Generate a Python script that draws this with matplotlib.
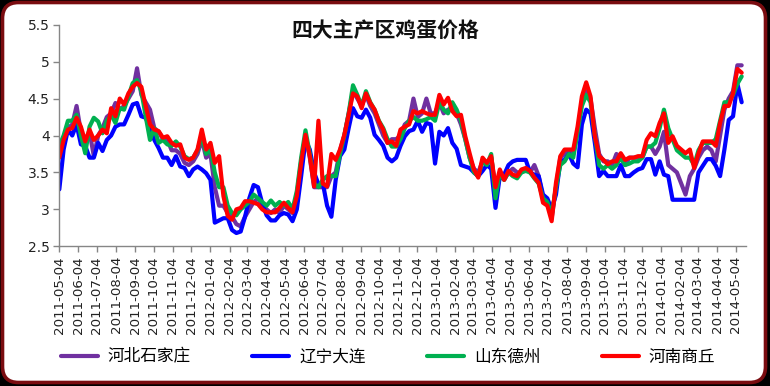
import matplotlib
matplotlib.use("Agg")
import matplotlib.pyplot as plt
import matplotlib.dates as mdates
from matplotlib.patches import FancyBboxPatch
from matplotlib.transforms import IdentityTransform
import pandas as pd

plt.rcParams['font.family'] = ['DejaVu Sans', 'Noto Sans CJK SC']

title = "四大主产区鸡蛋价格"
series_names = ["河北石家庄", "辽宁大连", "山东德州", "河南商丘"]
series_colors = ["#7030A0", "#0000FF", "#00B050", "#FF0000"]
start_date = "2011-05-04"

hebei = [3.75, 3.95, 4.10, 4.15, 4.40, 4.05, 3.85, 4.05, 3.72, 4.00,
         4.10, 4.25, 4.30, 4.44, 4.35, 4.40, 4.50, 4.60, 4.91, 4.55,
         4.45, 4.35, 4.10, 4.05, 3.95, 3.95, 3.80, 3.80, 3.75, 3.63,
         3.60, 3.65, 3.75, 3.95, 3.70, 3.75, 3.30, 3.05, 3.05, 2.95,
         2.90, 2.80, 2.77, 2.90, 3.00, 3.10, 3.15, 3.05, 3.00, 2.95,
         3.00, 2.95, 3.05, 3.00, 2.95, 3.20, 3.65, 4.00, 3.70, 3.30,
         3.30, 3.30, 3.30, 3.45, 3.50, 3.80, 4.00, 4.30, 4.60, 4.50,
         4.40, 4.55, 4.40, 4.30, 4.15, 4.00, 3.90, 3.95, 3.95, 4.00,
         4.15, 4.20, 4.50, 4.25, 4.30, 4.50, 4.30, 4.30, 4.45, 4.30,
         4.35, 4.35, 4.30, 4.15, 3.95, 3.70, 3.55, 3.50, 3.65, 3.60,
         3.70, 3.30, 3.45, 3.40, 3.50, 3.55, 3.50, 3.50, 3.55, 3.50,
         3.60, 3.45, 3.15, 3.10, 2.88, 3.30, 3.70, 3.75, 3.80, 3.75,
         4.05, 4.45, 4.60, 4.50, 4.10, 3.75, 3.65, 3.65, 3.60, 3.75,
         3.70, 3.60, 3.70, 3.70, 3.70, 3.70, 3.85, 3.85, 3.75, 3.85,
         4.05, 3.60, 3.55, 3.50, 3.35, 3.20, 3.45, 3.55, 3.70, 3.80,
         3.85, 3.80, 3.65, 4.00, 4.35, 4.50, 4.60, 4.95, 4.95]

liaoning = [3.27, 3.81, 4.08, 4.00, 4.15, 3.88, 3.86, 3.70, 3.70, 3.90,
            3.79, 3.94, 4.00, 4.12, 4.15, 4.15, 4.28, 4.42, 4.44, 4.26,
            4.24, 4.10, 3.94, 3.83, 3.70, 3.70, 3.60, 3.72, 3.58, 3.56,
            3.45, 3.54, 3.58, 3.54, 3.49, 3.40, 2.82, 2.85, 2.88, 2.88,
            2.72, 2.68, 2.70, 2.90, 3.15, 3.33, 3.30, 3.08, 2.92, 2.85,
            2.85, 2.92, 2.95, 2.93, 2.84, 3.00, 3.45, 3.94, 3.81, 3.50,
            3.34, 3.36, 3.05, 2.90, 3.40, 3.72, 3.81, 4.10, 4.37, 4.26,
            4.24, 4.35, 4.24, 4.01, 3.94, 3.86, 3.70, 3.65, 3.70, 3.86,
            3.99, 4.06, 4.08, 4.20, 4.05, 4.17, 4.15, 3.62, 4.05, 4.00,
            4.10, 3.90, 3.82, 3.60, 3.58, 3.56, 3.50, 3.45, 3.52, 3.60,
            3.55, 3.02, 3.45, 3.47, 3.60, 3.65, 3.67, 3.67, 3.67, 3.50,
            3.47, 3.45, 3.20, 3.15, 3.00, 3.20, 3.65, 3.67, 3.75, 3.62,
            3.57, 4.15, 4.35, 4.30, 3.90, 3.45, 3.52, 3.45, 3.45, 3.45,
            3.60, 3.45, 3.45, 3.50, 3.54, 3.56, 3.68, 3.68, 3.47, 3.65,
            3.47, 3.45, 3.13, 3.13, 3.13, 3.13, 3.13, 3.13, 3.50, 3.59,
            3.68, 3.68, 3.59, 3.45, 3.81, 4.21, 4.26, 4.70, 4.45]

shandong = [3.86, 4.00, 4.20, 4.20, 4.28, 4.00, 3.76, 4.12, 4.24, 4.19,
            4.03, 4.20, 4.28, 4.17, 4.37, 4.35, 4.53, 4.71, 4.75, 4.60,
            4.26, 3.94, 4.10, 3.90, 3.94, 3.88, 3.86, 3.92, 3.85, 3.72,
            3.68, 3.70, 3.80, 4.00, 3.75, 3.82, 3.50, 3.30, 3.30, 3.05,
            2.95, 2.92, 3.00, 3.05, 3.10, 3.20, 3.15, 3.10, 3.05, 3.12,
            3.05, 3.10, 3.05, 3.10, 3.00, 3.25, 3.70, 4.07, 3.75, 3.35,
            3.30, 3.40, 3.45, 3.45, 3.45, 3.75, 4.00, 4.30, 4.68, 4.55,
            4.40, 4.60, 4.45, 4.35, 4.20, 4.10, 3.95, 3.85, 3.85, 3.95,
            4.10, 4.20, 4.25, 4.20, 4.20, 4.22, 4.25, 4.20, 4.45, 4.35,
            4.30, 4.45, 4.35, 4.20, 3.95, 3.70, 3.50, 3.45, 3.65, 3.60,
            3.75, 3.15, 3.50, 3.40, 3.50, 3.45, 3.42, 3.50, 3.52, 3.50,
            3.42, 3.35, 3.15, 3.10, 2.92, 3.30, 3.60, 3.65, 3.75, 3.70,
            4.05, 4.40, 4.55, 4.45, 4.00, 3.60, 3.55, 3.60, 3.55, 3.60,
            3.70, 3.60, 3.62, 3.65, 3.65, 3.70, 3.85, 3.85, 3.90, 4.10,
            4.35, 4.10, 3.95, 3.80, 3.75, 3.70, 3.70, 3.60, 3.80, 3.90,
            3.90, 3.90, 3.95, 4.20, 4.45, 4.45, 4.55, 4.70, 4.80]

henan = [3.70, 3.94, 4.08, 4.10, 4.24, 4.12, 3.92, 4.08, 3.94, 4.00,
         4.08, 4.03, 4.37, 4.26, 4.50, 4.42, 4.57, 4.66, 4.71, 4.66,
         4.40, 4.15, 4.08, 4.06, 3.97, 3.99, 3.90, 3.86, 3.88, 3.70,
         3.67, 3.70, 3.81, 4.08, 3.81, 3.90, 3.63, 3.72, 3.18, 2.91,
         2.86, 3.00, 3.02, 3.11, 3.11, 3.09, 3.07, 3.00, 2.96, 2.96,
         2.96, 3.02, 3.09, 3.02, 2.96, 3.18, 3.63, 4.01, 3.72, 3.31,
         4.20, 3.35, 3.31, 3.75, 3.67, 3.81, 4.01, 4.28, 4.57, 4.53,
         4.37, 4.57, 4.44, 4.35, 4.19, 4.08, 3.90, 3.92, 3.86, 4.08,
         4.12, 4.15, 4.33, 4.30, 4.33, 4.30, 4.28, 4.28, 4.55, 4.42,
         4.51, 4.33, 4.26, 4.28, 3.99, 3.76, 3.54, 3.43, 3.70, 3.63,
         3.72, 3.30, 3.54, 3.40, 3.52, 3.47, 3.45, 3.54, 3.56, 3.52,
         3.43, 3.36, 3.09, 3.05, 2.84, 3.36, 3.72, 3.81, 3.81, 3.81,
         4.12, 4.53, 4.72, 4.53, 3.99, 3.72, 3.67, 3.61, 3.65, 3.65,
         3.76, 3.67, 3.70, 3.70, 3.72, 3.72, 3.94, 4.03, 3.99, 4.17,
         4.30, 3.90, 3.99, 3.86, 3.81, 3.76, 3.81, 3.56, 3.76, 3.92,
         3.92, 3.92, 3.86, 4.17, 4.40, 4.40, 4.57, 4.90, 4.85]

y_ticks = [2.5, 3, 3.5, 4, 4.5, 5, 5.5]
y_tick_labels = ["2.5", "3", "3.5", "4", "4.5", "5", "5.5"]

dates = pd.date_range(start_date, periods=len(henan), freq="7D")
all_series = [hebei, liaoning, shandong, henan]

W, H = 770, 386
fig = plt.figure(figsize=(W / 100, H / 100), dpi=100)
fig.patch.set_facecolor("black")

frame = FancyBboxPatch((2.5, 3.5), 763, 380, boxstyle="round,pad=0,rounding_size=16",
                       transform=IdentityTransform(), facecolor="white",
                       edgecolor="#7a0c10", linewidth=2.6, zorder=-10)
fig.add_artist(frame)

ax = fig.add_axes([59.3 / W, 1 - 246.3 / H, (746 - 59.3) / W, (246.3 - 24.7) / H])
ax.set_facecolor("white")

handles = []
for name, color, vals in zip(series_names, series_colors, all_series):
    h, = ax.plot(dates, vals, color=color, linewidth=3.0, solid_joinstyle="round",
                 solid_capstyle="round", label=name)
    handles.append(h)

ax.set_ylim(2.5, 5.5)
ax.set_yticks(y_ticks)
ax.set_yticklabels(y_tick_labels, fontsize=10, color="#222222")
ax.set_xlim(pd.Timestamp("2011-05-04"), pd.Timestamp("2014-05-21"))
ax.xaxis.set_major_locator(mdates.MonthLocator(bymonthday=4))
ax.xaxis.set_major_formatter(mdates.DateFormatter("%Y-%m-%d"))
for lbl in ax.get_xticklabels():
    lbl.set_rotation(90)
    lbl.set_fontsize(9.6)
    lbl.set_color("#222222")

for s in ["top", "right"]:
    ax.spines[s].set_visible(False)
for s in ["left", "bottom"]:
    ax.spines[s].set_color("#868686")
    ax.spines[s].set_linewidth(1.0)
ax.tick_params(axis="both", direction="out", length=4, color="#868686", width=1.0)
ax.tick_params(axis="x", pad=3)
ax.tick_params(axis="y", pad=3)

fig.text(385 / W, 1 - 31 / H, title, ha="center", va="center", fontsize=15,
         family=["Noto Sans CJK SC", "DejaVu Sans"], weight="bold", color="#111111")

fig.legend(handles, series_names, loc="center", bbox_to_anchor=(388 / W, 1 - 357 / H),
           ncol=4, frameon=False, prop={"family": ["Noto Sans CJK SC", "DejaVu Sans"], "size": 12},
           handlelength=2.2, handletextpad=0.6, columnspacing=3.7)

fig.savefig("out.png", dpi=100, facecolor=fig.get_facecolor())
